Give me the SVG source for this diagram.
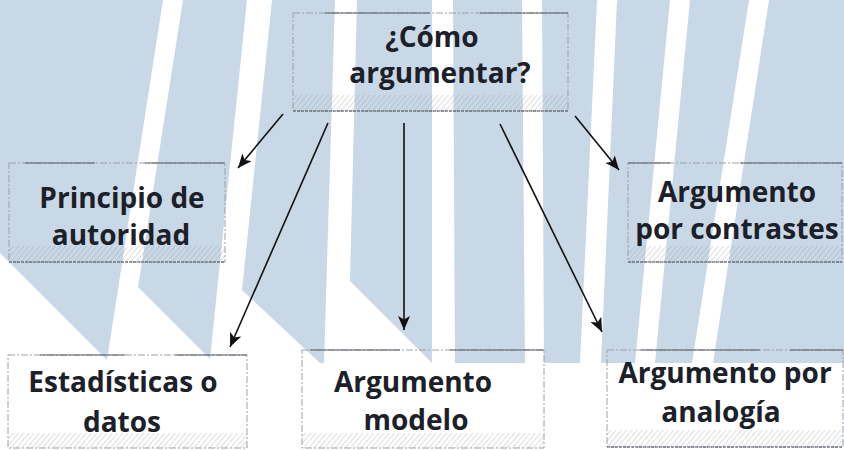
<svg xmlns="http://www.w3.org/2000/svg" width="844" height="450" viewBox="0 0 844 450">
<defs>
<style>
.band{fill:#c9d8e6}
.box{fill:none;stroke:#9aa0a8;stroke-width:1;stroke-dasharray:7 2 2 2}
.top{stroke:#5a5f66;stroke-width:1.2}
.bot{stroke:#50555c;stroke-width:1.2;stroke-dasharray:3 1}
.hatch{fill:url(#hp)}
.t{font-family:"Open Sans","Liberation Sans",sans-serif;font-weight:700;font-size:28px;fill:#1b2029;text-anchor:middle}
.c{stroke:#111;stroke-width:1.6;fill:none;marker-end:url(#ah)}
</style>
<pattern id="hp" width="4" height="4" patternUnits="userSpaceOnUse" patternTransform="rotate(40)">
<line x1="0" y1="0" x2="0" y2="4" stroke="#8e949b" stroke-width="0.9" opacity="0.7"/>
</pattern>
<marker id="ah" markerUnits="userSpaceOnUse" markerWidth="15" markerHeight="12" refX="14" refY="6" orient="auto">
<path d="M0,0 L14,6 L0,12 L3.5,6 z" fill="#111"/>
</marker>
</defs>
<g id="background">
<polygon class="band" points="0,0 163,0 107,360 0,253"/>
<polygon class="band" points="183,0 247,0 210,359 138,287"/>
<polygon class="band" points="272,0 335,0 324,363 320,363 242,290"/>
<polygon class="band" points="357,0 432,0 432,363 350,281"/>
<polygon class="band" points="453,0 522,0 525,363 455,363"/>
<polygon class="band" points="542,0 597,0 580,363 544,363"/>
<polygon class="band" points="617,0 670,0 635,363 601,363"/>
<polygon class="band" points="690,0 749,0 692,363 655,363"/>
<polygon class="band" points="769,0 844,0 844,363 713,363"/>
</g>
<g id="node-como">
<rect class="hatch" x="293" y="95" width="275" height="16"/>
<rect class="box" x="293" y="13" width="275" height="98"/>
<line class="top" x1="325" y1="13" x2="430" y2="13"/>
<line class="top" x1="480" y1="13" x2="568" y2="13"/>
<line class="bot" x1="293" y1="111" x2="568" y2="111"/>
<text class="t" x="432" y="47">¿Cómo</text>
<text class="t" x="440" y="83">argumentar?</text>
</g>
<g id="node-autoridad">
<rect class="hatch" x="9" y="246" width="216" height="16"/>
<rect class="box" x="9" y="163" width="216" height="99"/>
<line class="top" x1="25" y1="163" x2="95" y2="163"/>
<line class="top" x1="145" y1="163" x2="225" y2="163"/>
<line class="bot" x1="9" y1="262" x2="225" y2="262"/>
<text class="t" x="122" y="208">Principio de</text>
<text class="t" x="121" y="245">autoridad</text>
</g>
<g id="node-contrastes">
<rect class="hatch" x="628" y="246" width="214" height="16"/>
<rect class="box" x="628" y="163" width="214" height="99"/>
<line class="top" x1="628" y1="163" x2="670" y2="163"/>
<line class="top" x1="740" y1="163" x2="842" y2="163"/>
<line class="bot" x1="628" y1="262" x2="842" y2="262"/>
<text class="t" x="737" y="202">Argumento</text>
<text class="t" x="737" y="239">por contrastes</text>
</g>
<g id="node-estadisticas">
<rect class="hatch" x="8" y="433" width="239" height="15"/>
<rect class="box" x="8" y="355" width="239" height="93"/>
<line class="top" x1="40" y1="355" x2="125" y2="355"/>
<line class="top" x1="175" y1="355" x2="247" y2="355"/>
<text class="t" x="123" y="392">Estadísticas o</text>
<text class="t" x="122" y="432">datos</text>
</g>
<g id="node-modelo">
<rect class="hatch" x="302" y="433" width="242" height="15"/>
<rect class="box" x="302" y="350" width="242" height="98"/>
<line class="top" x1="310" y1="350" x2="400" y2="350"/>
<line class="top" x1="450" y1="350" x2="544" y2="350"/>
<text class="t" x="413" y="392">Argumento</text>
<text class="t" x="416" y="430">modelo</text>
</g>
<g id="node-analogia">
<rect class="hatch" x="607" y="430" width="236" height="17"/>
<rect class="box" x="607" y="350" width="236" height="97"/>
<line class="top" x1="640" y1="350" x2="760" y2="350"/>
<line class="top" x1="790" y1="350" x2="843" y2="350"/>
<line class="bot" x1="607" y1="447" x2="843" y2="447"/>
<text class="t" x="725" y="383">Argumento por</text>
<text class="t" x="721" y="422">analogía</text>
</g>
<g id="connectors">
<line class="c" x1="283" y1="114" x2="238" y2="168"/>
<line class="c" x1="328" y1="123" x2="230" y2="347"/>
<line class="c" x1="404" y1="123" x2="404" y2="330"/>
<line class="c" x1="500" y1="124" x2="602" y2="332"/>
<line class="c" x1="575" y1="116" x2="619" y2="170"/>
</g>
</svg>
